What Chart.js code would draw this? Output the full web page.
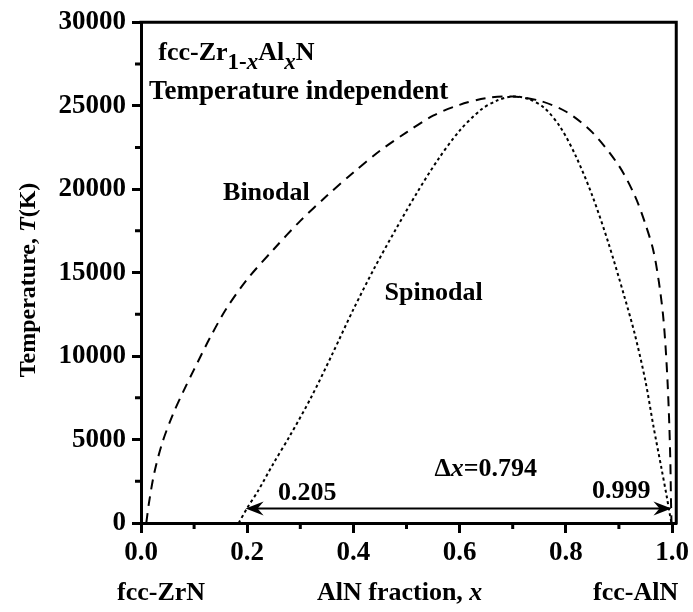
<!DOCTYPE html>
<html>
<head>
<meta charset="utf-8">
<script src="https://cdn.jsdelivr.net/npm/chart.js@4/dist/chart.umd.min.js"></script>
<style>
  html, body { margin: 0; padding: 0; background: #fff; }
  #wrap { width: 693px; height: 612px; }
</style>
</head>
<body>
<div id="wrap"><canvas id="myChart" width="693" height="612"></canvas></div>
<script>
// tick values
const xTickValues = [0, 0.2, 0.4, 0.6, 0.8, 1.0];
const xMinorValues = [0.1, 0.3, 0.5, 0.7, 0.9];
const yTickValues = [0, 5000, 10000, 15000, 20000, 25000, 30000];
const yMinorValues = [2500, 7500, 12500, 17500, 22500, 27500];

// Binodal (dashed) - AlN fraction / temperature (K)
const binodalX = [0.010, 0.015, 0.025, 0.040, 0.060, 0.080, 0.100, 0.130, 0.160, 0.200, 0.250, 0.300, 0.350, 0.400, 0.450, 0.500, 0.550, 0.600, 0.650, 0.700, 0.750, 0.800, 0.850, 0.900, 0.930, 0.950, 0.965, 0.975, 0.983, 0.988, 0.992, 0.995, 0.997, 0.998, 0.999];
const binodalT = [0, 1200, 3000, 4800, 6500, 7900, 9200, 11100, 12800, 14600, 16400, 18100, 19600, 21000, 22300, 23400, 24400, 25050, 25450, 25550, 25300, 24650, 23400, 21400, 19600, 17900, 16300, 14500, 12500, 10500, 8200, 5800, 3500, 1500, 0];

// Spinodal (dotted)
const spinodalX = [0.184, 0.200, 0.220, 0.250, 0.280, 0.320, 0.360, 0.400, 0.440, 0.480, 0.520, 0.560, 0.600, 0.640, 0.670, 0.700, 0.730, 0.760, 0.790, 0.820, 0.850, 0.880, 0.910, 0.930, 0.950, 0.965, 0.980, 0.990, 0.996, 0.999];
const spinodalT = [0, 900, 1900, 3600, 5200, 7500, 10100, 12800, 15300, 17600, 19800, 21800, 23500, 24750, 25300, 25550, 25400, 24850, 23700, 21900, 19600, 16800, 13600, 11300, 8500, 5800, 3300, 1600, 500, 0];

// Δx arrow (x from, x to, T)
const arrowX = [0.197, 0.999];
const arrowT = 870;

function toPoints(xs, ys) {
  return xs.map((x, i) => ({ x: x, y: ys[i] }));
}

const FONT = '"Liberation Serif", "Times New Roman", serif';

// draw text made of several runs (normal / italic / subscript)
function drawRuns(ctx, x, y, runs, size) {
  let cx = x;
  for (const r of runs) {
    const s = r.sub ? Math.round(size * 0.9) : size;
    ctx.font = (r.italic ? 'italic ' : '') + 'bold ' + s + 'px ' + FONT;
    ctx.fillText(r.text, cx, y + (r.sub ? size * 0.38 : 0));
    cx += ctx.measureText(r.text).width;
  }
  return cx - x;
}
function runsWidth(ctx, runs, size) {
  let w = 0;
  for (const r of runs) {
    const s = r.sub ? Math.round(size * 0.9) : size;
    ctx.font = (r.italic ? 'italic ' : '') + 'bold ' + s + 'px ' + FONT;
    w += ctx.measureText(r.text).width;
  }
  return w;
}

// labels inside the plot, anchored in data coordinates
const plotLabels = [
  { x: 0.0325, y: 27760, size: 26, runs: [{ text: 'fcc-Zr' }, { text: '1-', sub: true }, { text: 'x', sub: true, italic: true }, { text: 'Al' }, { text: 'x', sub: true, italic: true }, { text: 'N' }] },
  { x: 0.0150, y: 25400, size: 27, runs: [{ text: 'Temperature independent' }] },
  { x: 0.1545, y: 19370, size: 26, runs: [{ text: 'Binodal' }] },
  { x: 0.4586, y: 13350, size: 26, runs: [{ text: 'Spinodal' }] },
  { x: 0.5526, y: 2835, size: 26, runs: [{ text: 'Δ' }, { text: 'x', italic: true }, { text: '=0.794' }] },
  { x: 0.2578, y: 1360, size: 26, runs: [{ text: '0.205' }] },
  { x: 0.8492, y: 1476, size: 26, runs: [{ text: '0.999' }] },
];

const extrasPlugin = {
  id: 'extras',
  afterDraw(chart) {
    const ctx = chart.ctx;
    const xs = chart.scales.x, ys = chart.scales.y;
    const area = chart.chartArea;
    ctx.save();
    ctx.strokeStyle = '#000';
    ctx.fillStyle = '#000';

    // top and right frame
    ctx.lineWidth = 3;
    ctx.beginPath();
    ctx.moveTo(area.left - 1.5, area.top);
    ctx.lineTo(area.right, area.top);
    ctx.lineTo(area.right, area.bottom + 1.5);
    ctx.stroke();

    // minor ticks
    ctx.lineWidth = 3;
    ctx.beginPath();
    for (const v of xMinorValues) {
      const px = xs.getPixelForValue(v);
      ctx.moveTo(px, area.bottom);
      ctx.lineTo(px, area.bottom + 6);
    }
    for (const v of yMinorValues) {
      const py = ys.getPixelForValue(v);
      ctx.moveTo(area.left, py);
      ctx.lineTo(area.left - 6, py);
    }
    ctx.stroke();

    // double arrow
    const ax0 = xs.getPixelForValue(arrowX[0]);
    const ax1 = xs.getPixelForValue(arrowX[1]);
    const ay = ys.getPixelForValue(arrowT);
    ctx.lineWidth = 2;
    ctx.beginPath();
    ctx.moveTo(ax0 + 8, ay);
    ctx.lineTo(ax1 - 8, ay);
    ctx.stroke();
    function head(tipX, dir) {
      ctx.beginPath();
      ctx.moveTo(tipX, ay);
      ctx.lineTo(tipX - dir * 18, ay - 7);
      ctx.lineTo(tipX - dir * 12, ay);
      ctx.lineTo(tipX - dir * 18, ay + 7);
      ctx.closePath();
      ctx.fill();
    }
    head(ax0, -1);
    head(ax1, 1);

    // labels in plot
    ctx.textAlign = 'left';
    ctx.textBaseline = 'alphabetic';
    for (const l of plotLabels) {
      drawRuns(ctx, xs.getPixelForValue(l.x), ys.getPixelForValue(l.y), l.runs, l.size);
    }

    // labels under the x axis
    const by = area.bottom + 77;
    drawRuns(ctx, 117, by, [{ text: 'fcc-ZrN' }], 26);
    drawRuns(ctx, 317, by, [{ text: 'AlN fraction, ' }, { text: 'x', italic: true }], 26);
    drawRuns(ctx, 593, by, [{ text: 'fcc-AlN' }], 26);

    // y axis title
    const yRuns = [{ text: 'Temperature, ' }, { text: 'T', italic: true }, { text: '(K)' }];
    const w = runsWidth(ctx, yRuns, 24);
    ctx.translate(35, 280);
    ctx.rotate(-Math.PI / 2);
    drawRuns(ctx, -w / 2, 0, yRuns, 24);
    ctx.restore();
  }
};

const ctx = document.getElementById('myChart').getContext('2d');
new Chart(ctx, {
  type: 'scatter',
  data: {
    datasets: [
      {
        label: 'Binodal',
        data: toPoints(binodalX, binodalT),
        showLine: true,
        borderColor: '#000',
        borderWidth: 2,
        borderDash: [10, 7],
        pointRadius: 0,
        tension: 0.3,
      },
      {
        label: 'Spinodal',
        data: toPoints(spinodalX, spinodalT),
        showLine: true,
        borderColor: '#000',
        borderWidth: 2,
        borderDash: [3, 3],
        pointRadius: 0,
        tension: 0.3,
      },
    ],
  },
  options: {
    responsive: false,
    animation: false,
    layout: { padding: { top: 15, right: 15, left: 0, bottom: 0 } },
    plugins: {
      legend: { display: false },
      tooltip: { enabled: false },
    },
    scales: {
      x: {
        type: 'linear',
        min: 0,
        max: 1.008,
        afterBuildTicks: (scale) => { scale.ticks = xTickValues.map(v => ({ value: v })); },
        afterFit: (scale) => { scale.height = 89; },
        ticks: {
          color: '#000',
          font: { family: FONT, size: 27, weight: 'bold' },
          padding: 4,
          maxRotation: 0,
          callback: (v) => Number(v).toFixed(1),
        },
        grid: { drawOnChartArea: false, tickLength: 10, tickWidth: 3, tickColor: '#000' },
        border: { width: 3, color: '#000' },
      },
      y: {
        min: 0,
        max: 30000,
        afterBuildTicks: (scale) => { scale.ticks = yTickValues.map(v => ({ value: v })); },
        afterFit: (scale) => { scale.width = 141; },
        ticks: {
          color: '#000',
          font: { family: FONT, size: 27, weight: 'bold' },
          padding: 6,
          callback: (v) => String(v),
        },
        grid: { drawOnChartArea: false, tickLength: 9, tickWidth: 3, tickColor: '#000' },
        border: { width: 3, color: '#000' },
      },
    },
  },
  plugins: [extrasPlugin],
});
</script>
</body>
</html>
